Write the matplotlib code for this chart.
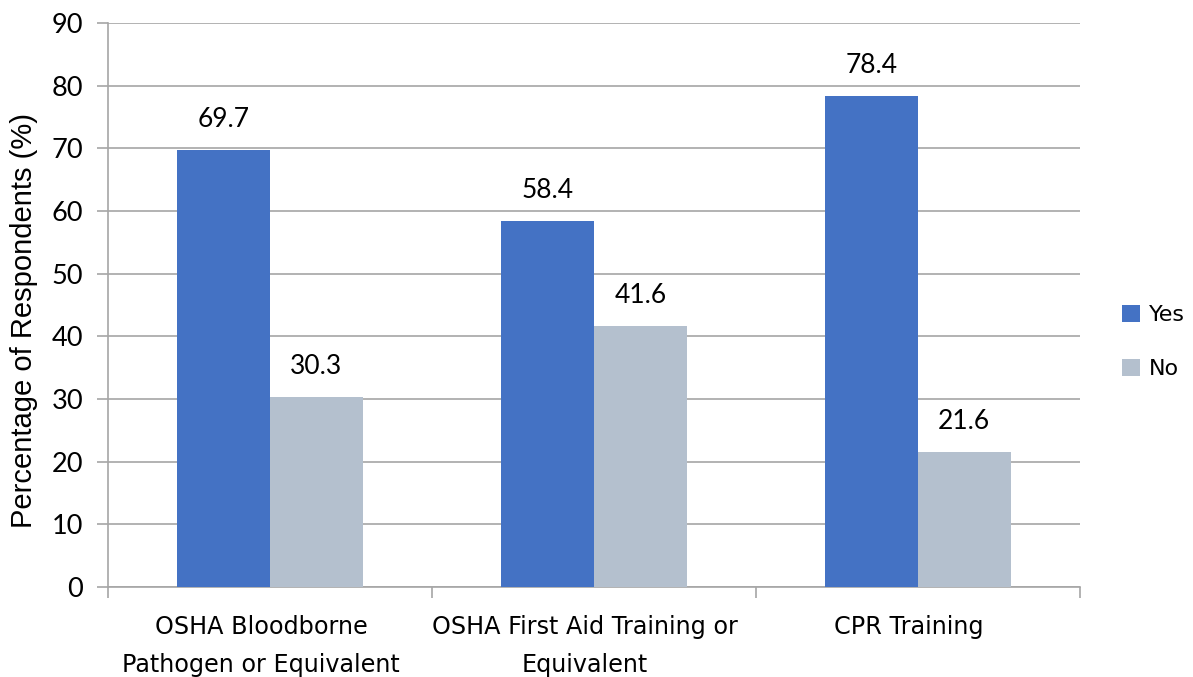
import numpy as np
import matplotlib.pyplot as plt
import matplotlib.transforms as mtransforms
from matplotlib.ticker import FixedLocator

categories = ["OSHA Bloodborne\nPathogen or Equivalent",
              "OSHA First Aid Training or\nEquivalent",
              "CPR Training"]
yes_vals = [69.7, 58.4, 78.4]
no_vals = [30.3, 41.6, 21.6]

blue = '#4472C4'
grey = '#B4C0CE'
grid_c = '#A6A6A6'

fig = plt.figure(figsize=(11.93, 6.77), dpi=100)
ax = fig.add_axes([108 / 1193, 1 - 587 / 677, 972 / 1193, 564 / 677])

x = np.arange(len(categories))
w = 0.2857
b1 = ax.bar(x - w / 2, yes_vals, w, color=blue, label='Yes', zorder=3)
b2 = ax.bar(x + w / 2, no_vals, w, color=grey, label='No', zorder=3)

for bars, vals in ((b1, yes_vals), (b2, no_vals)):
    for r, v in zip(bars, vals):
        ax.annotate(f"{v:.1f}", (r.get_x() + r.get_width() / 2, v),
                    xytext=(0, 13), textcoords='offset points',
                    ha='center', va='bottom', fontsize=19, family='Lato')

ax.set_xlim(-0.5, 2.5)
ax.set_ylim(0, 90)
ax.set_yticks(range(0, 91, 10))
ax.yaxis.grid(True, color=grid_c, linewidth=1.2, zorder=0)
ax.tick_params(axis='y', length=8, color=grid_c, width=1.2, pad=10, labelsize=19.5)
for lab in ax.get_yticklabels():
    lab.set_family('Lato')

ax.set_xticks(x)
ax.set_xticklabels(categories, fontsize=17.2, family='DejaVu Sans', linespacing=1.75)
ax.tick_params(axis='x', length=0, pad=20)
# category labels sit a little left of the bar pair centre
shift = mtransforms.ScaledTranslation(-9 / 100, 0, fig.dpi_scale_trans)
for lab in ax.get_xticklabels():
    lab.set_transform(lab.get_transform() + shift)
ax.xaxis.set_minor_locator(FixedLocator([-0.5, 0.5, 1.5, 2.5]))
ax.tick_params(axis='x', which='minor', length=8, color=grid_c, width=1.2)

for s in ['top', 'right']:
    ax.spines[s].set_visible(False)
for s in ['left', 'bottom']:
    ax.spines[s].set_color(grid_c)
    ax.spines[s].set_linewidth(1.2)

ax.set_ylabel("Percentage of Respondents (%)", fontsize=21, family='Liberation Sans')
ax.yaxis.set_label_coords(-0.072, 0.472)

leg = fig.legend(handles=[b1, b2], labels=['Yes', 'No'], loc='center left',
                 bbox_to_anchor=(1122 / 1193, 1 - 342 / 677), frameon=False,
                 prop={'family': 'DejaVu Sans', 'size': 16}, handlelength=0.8,
                 handleheight=0.8, handletextpad=0.4, labelspacing=1.5,
                 borderpad=0, borderaxespad=0)

fig.savefig('out.png', dpi=100)
